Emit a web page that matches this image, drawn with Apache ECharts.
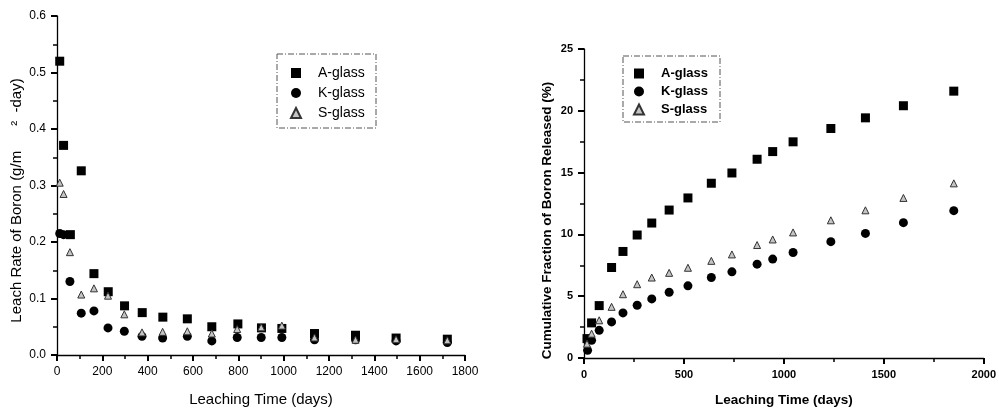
<!DOCTYPE html>
<html><head><meta charset="utf-8">
<script src="https://cdn.jsdelivr.net/npm/echarts@6/dist/echarts.min.js"></script>
<style>html,body{margin:0;padding:0;background:#fff}#c{width:999px;height:413px}</style>
</head><body><div id="c"></div>
<script>
// Left panel: leach rate (g/m2-day) vs leaching time (days)
const rateDays = [12, 29, 59, 107, 163, 226, 298, 376, 467, 575, 683, 798, 902, 992, 1136, 1317, 1496, 1722];
const rateA = [0.520, 0.371, 0.213, 0.326, 0.144, 0.112, 0.087, 0.075, 0.067, 0.064, 0.050, 0.055, 0.048, 0.047, 0.038, 0.035, 0.030, 0.028];
const rateDaysK = [12, 29, 57, 107, 163, 225, 297, 375, 466, 575, 683, 795, 901, 992, 1136, 1317, 1496, 1722];
const rateK = [0.215, 0.213, 0.130, 0.074, 0.078, 0.048, 0.042, 0.033, 0.030, 0.033, 0.025, 0.031, 0.031, 0.031, 0.027, 0.027, 0.025, 0.022];
const rateS = [0.305, 0.285, 0.182, 0.107, 0.118, 0.105, 0.072, 0.040, 0.041, 0.042, 0.038, 0.046, 0.049, 0.052, 0.031, 0.027, 0.028, 0.026];

// Right panel: cumulative fraction released (%) vs leaching time (days)
const cumDays = [15, 38, 76, 138, 195, 266, 339, 426, 520, 637, 740, 866, 944, 1046, 1235, 1408, 1598, 1850];
const cumDaysK = [18, 38, 76, 138, 195, 266, 339, 426, 520, 637, 740, 866, 944, 1046, 1235, 1408, 1598, 1850];
const cumA = [1.57, 2.84, 4.24, 7.32, 8.62, 9.95, 10.92, 11.97, 12.95, 14.14, 14.97, 16.08, 16.70, 17.49, 18.57, 19.43, 20.41, 21.59];
const cumK = [0.62, 1.43, 2.24, 2.92, 3.65, 4.27, 4.78, 5.32, 5.84, 6.51, 6.97, 7.59, 8.00, 8.54, 9.41, 10.08, 10.95, 11.92];
const cumS = [1.16, 1.97, 3.05, 4.14, 5.16, 5.97, 6.51, 6.89, 7.30, 7.86, 8.38, 9.14, 9.59, 10.16, 11.14, 11.95, 12.95, 14.13];

const seriesNames = ['A-glass', 'K-glass', 'S-glass'];
const pair = (xs, ys) => xs.map((x, i) => [x, ys[i]]);

const FONT = 'Liberation Sans, Arial, sans-serif';
const styles = {
  'A-glass': {symbol: 'rect', symbolSize: 9, itemStyle: {color: '#000', opacity: 1}},
  'K-glass': {symbol: 'circle', symbolSize: 9, itemStyle: {color: '#000', opacity: 1}},
  'S-glass': {symbol: 'triangle', symbolSize: 7, itemStyle: {color: '#c4c4c4', borderColor: '#333', borderWidth: 1, opacity: 1}}
};
function mk(name, data, idx) {
  return Object.assign({type: 'scatter', name, data, xAxisIndex: idx, yAxisIndex: idx, z: name === 'S-glass' ? 3 : 2}, styles[name]);
}
function axisCommon(bold, fmt) {
  return {
    axisLine: {show: true, onZero: false, lineStyle: {color: '#000', width: 1.3}},
    axisTick: {show: true, inside: false, length: 6, lineStyle: {color: '#000', width: 2}},
    minorTick: {show: true, splitNumber: 2, length: 4, lineStyle: {color: '#000', width: 1.5}},
    splitLine: {show: false},
    axisLabel: {color: '#000', fontFamily: FONT, fontSize: bold ? 11 : 12, fontWeight: bold ? 'bold' : 'normal', margin: 11, formatter: fmt},
    nameLocation: 'middle',
    nameTextStyle: {color: '#000', fontFamily: FONT, fontSize: bold ? 13.5 : 15, fontWeight: bold ? 'bold' : 'normal'}
  };
}
const intFmt = v => String(v);

const chart = echarts.init(document.getElementById('c'));
const yLeft = axisCommon(false, v => v.toFixed(1));
yLeft.nameTextStyle = Object.assign({}, yLeft.nameTextStyle, {padding: [0, 30, 0, 0]});
const yRight = axisCommon(true, intFmt);
yRight.nameTextStyle = Object.assign({}, yRight.nameTextStyle, {padding: [0, 34, 0, 0]});

chart.setOption({
  animation: false,
  backgroundColor: '#fff',
  grid: [
    {left: 57, right: 534, top: 16, bottom: 58, containLabel: false},
    {left: 584, right: 14, top: 49, bottom: 55, containLabel: false}
  ],
  xAxis: [
    Object.assign(axisCommon(false, intFmt), {gridIndex: 0, type: 'value', position: 'bottom', min: 0, max: 1800, interval: 200, name: 'Leaching Time (days)', nameGap: 37}),
    Object.assign(axisCommon(true, intFmt), {gridIndex: 1, type: 'value', position: 'bottom', min: 0, max: 2000, interval: 500, name: 'Leaching Time (days)', nameGap: 35})
  ],
  yAxis: [
    Object.assign(yLeft, {gridIndex: 0, type: 'value', position: 'left', min: 0, max: 0.6, interval: 0.1, name: 'Leach Rate of Boron (g/m      \u00B2  -day)', nameGap: 33}),
    Object.assign(yRight, {gridIndex: 1, type: 'value', position: 'left', min: 0, max: 25, interval: 5, name: 'Cumulative Fraction of Boron Released (%)', nameGap: 30})
  ],
  legend: [
    {data: seriesNames, orient: 'vertical', left: 285, top: 61, itemGap: 6, itemWidth: 10, itemHeight: 10,
      textStyle: {fontFamily: FONT, fontSize: 14, color: '#000', padding: [0, 0, 0, 12]}, selectedMode: false},
    {data: seriesNames, orient: 'vertical', left: 628, top: 62, itemGap: 5, itemWidth: 10, itemHeight: 10,
      textStyle: {fontFamily: FONT, fontSize: 13, fontWeight: 'bold', color: '#000', padding: [0, 0, 0, 12]}, selectedMode: false}
  ],
  graphic: [
    {type: 'rect', shape: {x: 277, y: 54, width: 99, height: 74}, style: {fill: 'none', stroke: '#555', lineWidth: 1, lineDash: [6, 2, 1, 2]}, silent: true},
    {type: 'rect', shape: {x: 623, y: 56, width: 97, height: 66}, style: {fill: 'none', stroke: '#555', lineWidth: 1, lineDash: [6, 2, 1, 2]}, silent: true}
  ],
  series: [
    mk('A-glass', pair(rateDays, rateA), 0),
    mk('K-glass', pair(rateDaysK, rateK), 0),
    mk('S-glass', pair(rateDaysK, rateS), 0),
    mk('A-glass', pair(cumDays, cumA), 1),
    mk('K-glass', pair(cumDaysK, cumK), 1),
    mk('S-glass', pair(cumDays, cumS), 1)
  ]
});
</script></body></html>
